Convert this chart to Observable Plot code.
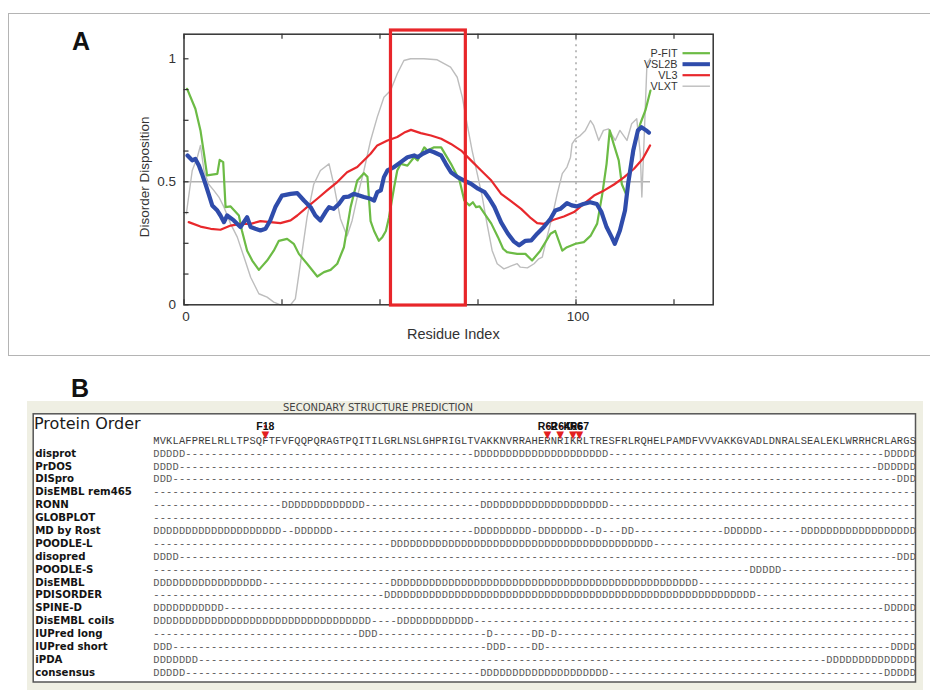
<!DOCTYPE html>
<html><head><meta charset="utf-8">
<script src="https://cdn.jsdelivr.net/npm/d3@7"></script>
<script src="https://cdn.jsdelivr.net/npm/@observablehq/plot@0.6"></script>
<style>
html,body{margin:0;padding:0;background:#fff}
#wrap{position:relative;width:930px;height:694px;overflow:hidden;font-family:"Liberation Sans",Arial,sans-serif}
.abs{position:absolute}
</style></head><body><div id="wrap">
<div class="abs" style="left:8px;top:13px;width:940px;height:343px;border:1.5px solid #b4b4b4;border-right:none;box-sizing:border-box"></div>
<div class="abs" style="left:72px;top:29px;font:bold 25px 'Liberation Sans';line-height:25px;color:#111">A</div>
<div class="abs" style="left:71px;top:376px;font:bold 25px 'Liberation Sans';line-height:25px;color:#111">B</div>
<div class="abs" style="left:27px;top:401px;width:896px;height:289px;background:#efefe3"></div>
<div id="panelA" class="abs" style="left:0;top:0"></div>
<div id="panelB" class="abs" style="left:0;top:355px"></div>
<div class="abs" style="left:283px;top:402px;font:10px 'DejaVu Sans';line-height:12px;color:#444;white-space:nowrap">SECONDARY STRUCTURE PREDICTION</div>
<div class="abs" style="left:34px;top:415px;font:16px 'DejaVu Sans';line-height:18px;color:#1a1a1a;white-space:nowrap">Protein Order</div>
</div>
<script>
// ---------- Panel A data: disorder predictions (residue, score) ----------
const pfit = [[0.8,0.878],[2.9,0.797],[4.2,0.709],[5.1,0.614],[5.9,0.526],[7.6,0.53],[8.5,0.532],[9.1,0.589],[10,0.58],[10.6,0.397],[11.9,0.40],[14,0.363],[14.8,0.30],[16.1,0.22],[17.4,0.18],[19.1,0.142],[21.2,0.18],[22.9,0.22],[24.2,0.26],[26.3,0.268],[28,0.248],[29.3,0.207],[31.4,0.167],[34,0.115],[35.7,0.133],[37.4,0.142],[39.1,0.167],[40.8,0.234],[42.5,0.397],[44.2,0.505],[45.9,0.535],[46.8,0.52],[47.6,0.34],[48.5,0.30],[49.7,0.26],[50.6,0.275],[51.5,0.30],[52.3,0.356],[53.6,0.478],[54.4,0.546],[55.3,0.573],[57,0.566],[58.7,0.60],[59.6,0.587],[61.3,0.64],[62.1,0.627],[63.8,0.64],[65.6,0.64],[68.1,0.573],[70.3,0.505],[71.5,0.424],[72.8,0.404],[73.7,0.417],[74.5,0.397],[75.4,0.40],[76.7,0.37],[78.4,0.33],[80.1,0.275],[81.4,0.228],[82.4,0.214],[85,0.207],[87.1,0.207],[88.8,0.18],[90.9,0.22],[93.5,0.289],[94.7,0.30],[96.5,0.22],[97.7,0.234],[99.9,0.248],[102,0.255],[103.7,0.28],[105.4,0.33],[106.7,0.45],[107.8,0.573],[108.6,0.709],[109.6,0.654],[110.9,0.587],[111.7,0.49],[112.9,0.445],[113.9,0.546],[115.2,0.668],[116.4,0.736],[117.7,0.79],[119,0.871]];
const vsl2b = [[0.9,0.607],[2.1,0.587],[2.9,0.593],[3.8,0.566],[4.6,0.532],[5.5,0.49],[6.3,0.45],[7.2,0.404],[8.5,0.383],[9.3,0.363],[10.2,0.336],[11,0.363],[12.7,0.343],[14.4,0.316],[16.1,0.356],[17,0.316],[18.2,0.309],[19.5,0.302],[20.8,0.309],[22,0.343],[23.3,0.397],[25,0.444],[27.2,0.451],[28.9,0.454],[30.6,0.424],[32.3,0.397],[33.5,0.363],[34.8,0.343],[36.1,0.377],[37,0.397],[38.2,0.39],[39.5,0.41],[40.8,0.438],[42,0.44],[43.3,0.451],[45.9,0.438],[47.6,0.431],[48.5,0.424],[49.3,0.458],[50.2,0.465],[51,0.519],[51.9,0.546],[53.6,0.56],[55.3,0.58],[57,0.60],[58.7,0.607],[59.6,0.60],[60.9,0.614],[62.6,0.627],[63.8,0.62],[65.6,0.607],[66.8,0.573],[68.1,0.539],[69.8,0.519],[71.5,0.505],[73.2,0.492],[75,0.472],[76.7,0.458],[77.9,0.431],[79.2,0.397],[80.9,0.335],[82.6,0.29],[84.1,0.258],[85.5,0.242],[87.1,0.26],[88.6,0.262],[90.1,0.289],[91.8,0.316],[93.5,0.35],[94.7,0.383],[96,0.39],[97.7,0.413],[98.9,0.404],[100.2,0.40],[101.9,0.41],[103.6,0.417],[105.3,0.41],[106.5,0.377],[107.8,0.316],[109.1,0.275],[109.9,0.248],[111.2,0.302],[112.5,0.383],[113.3,0.492],[114.6,0.627],[115.8,0.709],[116.7,0.722],[117.9,0.709],[118.6,0.70]];
const vl3 = [[1.2,0.336],[4.2,0.318],[6.8,0.309],[9.3,0.305],[11.9,0.322],[14.4,0.329],[17,0.329],[19.5,0.34],[22,0.336],[24.6,0.332],[27.2,0.343],[28.9,0.363],[31.4,0.397],[34,0.431],[36.5,0.465],[39.1,0.499],[41.6,0.539],[44.2,0.56],[47.6,0.614],[49.3,0.648],[51.9,0.668],[54.4,0.682],[56.2,0.70],[57.9,0.711],[60.4,0.698],[63,0.688],[65.6,0.675],[68.1,0.654],[70.7,0.627],[73.2,0.587],[75.8,0.546],[78.4,0.505],[80.9,0.451],[83.5,0.42],[86,0.39],[88.5,0.352],[90.1,0.332],[91.8,0.329],[94.3,0.346],[96.9,0.359],[99.5,0.377],[102,0.41],[104.6,0.444],[107.2,0.465],[109.7,0.489],[112.3,0.519],[114.8,0.553],[117,0.593],[118.9,0.648]];
const vlxt = [[0.6,0.37],[2.1,0.546],[3.4,0.60],[4.2,0.648],[5.1,0.546],[6.3,0.49],[7.6,0.465],[8.9,0.438],[10.2,0.397],[11.9,0.329],[13.6,0.275],[15.3,0.194],[17,0.112],[19.1,0.045],[21.2,0.031],[22.9,0.011],[24.6,0],[27.2,0],[28.4,0.024],[29.7,0.167],[31.4,0.356],[33.1,0.49],[34.8,0.546],[37,0.573],[38.2,0.49],[39.9,0.35],[41.6,0.28],[42.9,0.343],[44.2,0.438],[45.9,0.546],[47.6,0.668],[49.3,0.763],[51,0.844],[52.7,0.871],[54.4,0.939],[56.1,0.993],[57.8,1.0],[61.2,1.0],[64.6,0.996],[68,0.966],[69.7,0.925],[71,0.844],[72.2,0.736],[73.5,0.627],[74.8,0.533],[76.1,0.438],[77.3,0.329],[78.6,0.221],[79.9,0.167],[81.6,0.146],[83.3,0.157],[85,0.167],[85.8,0.153],[87.6,0.15],[89.3,0.167],[90.5,0.187],[91.4,0.194],[92.6,0.275],[93.9,0.356],[95.2,0.451],[96.5,0.533],[97.7,0.56],[98.6,0.60],[99,0.654],[99.9,0.675],[101.1,0.688],[102.4,0.709],[103.7,0.749],[104.5,0.729],[105.8,0.668],[107,0.709],[108.3,0.715],[110,0.668],[111.2,0.709],[113,0.668],[114.2,0.736],[115.5,0.756],[116.4,0.614],[116.8,0.438],[117.2,0.60],[118.1,0.98],[118.9,1.0]];
const seriesNames = ["P-FIT", "VSL2B", "VL3", "VLXT"];
const xTicks = [0, 25, 50, 75, 100, 125];
const xTickLabels = [0, 100];
const yTicks = [0, 0.125, 0.25, 0.375, 0.5, 0.625, 0.75, 0.875, 1];
const yTickLabels = [0, 0.5, 1];
const threshold = [0.5];
const markerAt = [100];
const highlight = [{start: 52.8, end: 71.9}];

// ---------- Panel B data ----------
const sequence = "MVKLAFPRELRLLTPSQFTFVFQQPQRAGTPQITILGRLNSLGHPRIGLTVAKKNVRRAHERNRIKRLTRESFRLRQHELPAMDFVVVAKKGVADLDNRALSEALEKLWRRHCRLARGS";
const predictors = ["disprot","PrDOS","DISpro","DisEMBL rem465","RONN","GLOBPLOT","MD by Rost","POODLE-L","disopred","POODLE-S","DisEMBL","PDISORDER","SPINE-D","DisEMBL coils","IUPred long","IUPred short","iPDA","consensus"];
// disordered stretches (1-based residue ranges) for each predictor
const disorderRuns = [
  [[1,5],[51,71],[115,119]],
  [[1,4],[114,119]],
  [[1,3],[117,119]],
  [],
  [[21,33],[52,71]],
  [],
  [[1,20],[23,28],[51,59],[61,67],[70,70],[74,75],[90,95],[102,119]],
  [[38,78]],
  [[1,4],[117,119]],
  [[94,98]],
  [[1,17],[38,85]],
  [[37,94]],
  [[1,11],[115,119]],
  [[1,34],[39,50]],
  [[33,35],[53,53],[60,61],[63,63]],
  [[1,3],[53,55],[60,61],[116,119]],
  [[1,7],[106,119]],
  [[1,5],[52,71],[115,119]]
];
const siteResidues = [18, 62, 64, 66, 67];
const siteLabels = ["F18", "R62", "R64", "K66", "R67"];

// ---------- Panel A ----------
const cGreen = "#6cbb45", cBlue = "#2f4cab", cRed = "#e8282c", cGray = "#bdbdbd";
const seriesColors = [cGreen, cBlue, cRed, cGray];
const seriesWidths = [2.2, 4, 2.2, 1.4];
const legend = seriesNames.map((name, i) => ({name, i, color: seriesColors[i], w: seriesWidths[i], y: (304.3 - (52.7 + 11 * i)) / 246}));
const ln = (data, stroke, w) => Plot.line(data, {x: d => d[0], y: d => d[1], stroke, strokeWidth: w, strokeLinejoin: "round", strokeLinecap: "round"});

const plotA = Plot.plot({
  width: 930, height: 355,
  marginLeft: 183.5, marginRight: 930 - 712.7, marginTop: 33.7, marginBottom: 50.7,
  x: {domain: [0, 135], axis: null},
  y: {domain: [0, 1.1], axis: null},
  style: {background: "transparent", fontFamily: "Liberation Sans, Arial, sans-serif", overflow: "visible"},
  marks: [
    Plot.ruleY(threshold, {x1: 0, x2: 119, stroke: "#b0b0b0", strokeWidth: 1.6}),
    Plot.ruleX(markerAt, {y1: 0, y2: 1.1, stroke: "#a8a8a8", strokeWidth: 1.5, strokeDasharray: "2,4"}),
    ln(vlxt, cGray, 1.4),
    ln(pfit, cGreen, 2.2),
    ln(vl3, cRed, 2.2),
    ln(vsl2b, cBlue, 4.2),
    Plot.frame({stroke: "#333", strokeWidth: 1.5}),
    Plot.ruleX(xTicks, {x: d => d, y1: 0, y2: 5 / 246, stroke: "#333", strokeWidth: 1.2}),
    Plot.ruleX(xTicks, {x: d => d, y1: 1.1, y2: 1.1 - 5 / 246, stroke: "#333", strokeWidth: 1.2}),
    Plot.ruleY(yTicks, {y: d => d, x1: 0, x2: 5 / 3.92, stroke: "#333", strokeWidth: 1.2}),
    Plot.text(yTickLabels, {x: 0, y: d => d, text: d => String(d), textAnchor: "end", dx: -8, fontSize: 13.5, fill: "#333"}),
    Plot.text(xTickLabels, {x: d => d, y: 0, text: d => String(d), dy: 12, dx: 2, fontSize: 13.5, fill: "#333"}),
    Plot.text(["Residue Index"], {x: 68.7, y: 0, dy: 30, fontSize: 14.5, fill: "#333"}),
    Plot.text(["Disorder Disposition"], {x: 0, y: 0.52, dx: -39, rotate: -90, fontSize: 13.5, fill: "#333"}),
    Plot.text(legend, {x: 125.9, y: "y", text: "name", textAnchor: "end", fontSize: 10.8, fill: "#333"}),
    Plot.ruleY(legend, {y: "y", x1: 127.3, x2: 134.3, stroke: "color", strokeWidth: "w"}),
    Plot.rect(highlight, {x1: "start", x2: "end", y1: -0.003, y2: 1.115, fill: "none", stroke: "#e8262a", strokeWidth: 3.2})
  ]
});
document.getElementById("panelA").appendChild(plotA);

// ---------- Panel B ----------
const rowIds = ["__seq", ...predictors];
const rowIndex = new Map(rowIds.map((r, i) => [r, i]));
const seqCells = Array.from(sequence, (ch, k) => ({row: 0, pos: k + 1, ch}));
const predCells = [];
predictors.forEach((name, r) => {
  for (let p = 1; p <= sequence.length; p++) {
    const dis = disorderRuns[r].some(([a, b]) => p >= a && p <= b);
    predCells.push({row: r + 1, pos: p, ch: dis ? "D" : "-"});
  }
});
const sites = siteResidues.map((p, i) => ({pos: p, label: siteLabels[i]}));

const plotB = Plot.plot({
  width: 930, height: 339,
  marginLeft: 32.7, marginRight: 15, marginTop: 58.3, marginBottom: 12.5,
  x: {domain: [0.5, 119.5], range: [152.7, 915.5], axis: null},
  y: {domain: [0, rowIds.length - 1], range: [85, 317], axis: null},
  style: {background: "transparent", overflow: "visible"},
  marks: [
    Plot.frame({fill: "#fff", stroke: "#555", strokeWidth: 1.5}),
    Plot.text(seqCells, {x: "pos", y: "row", text: "ch", fontFamily: "Liberation Mono, monospace", fontSize: 10.4, fill: "#3c3c3c"}),
    Plot.text(predCells, {x: "pos", y: "row", text: "ch", fontFamily: "Liberation Mono, monospace", fontSize: 10.4, fill: "#5a5a5a"}),
    Plot.text(predictors, {y: d => rowIndex.get(d), frameAnchor: "left", textAnchor: "start", dx: 2, fontFamily: "DejaVu Sans", fontWeight: "bold", fontSize: 10.2, fill: "#141414"}),
    Plot.ruleX(sites, {x: "pos", stroke: "#e32020", strokeWidth: 3, insetTop: 12, insetBottom: 254}),
    Plot.text(sites, {x: "pos", frameAnchor: "top", text: () => "\u25BC", dy: 15.5, fontSize: 13, fill: "#e32020"}),
    Plot.text(sites, {x: "pos", frameAnchor: "top", text: "label", dy: 8.5, fontFamily: "Liberation Sans Narrow, Liberation Sans", fontWeight: "bold", fontSize: 10.5, fill: "#111"})
  ]
});
document.getElementById("panelB").appendChild(plotB);
</script>
</body></html>
